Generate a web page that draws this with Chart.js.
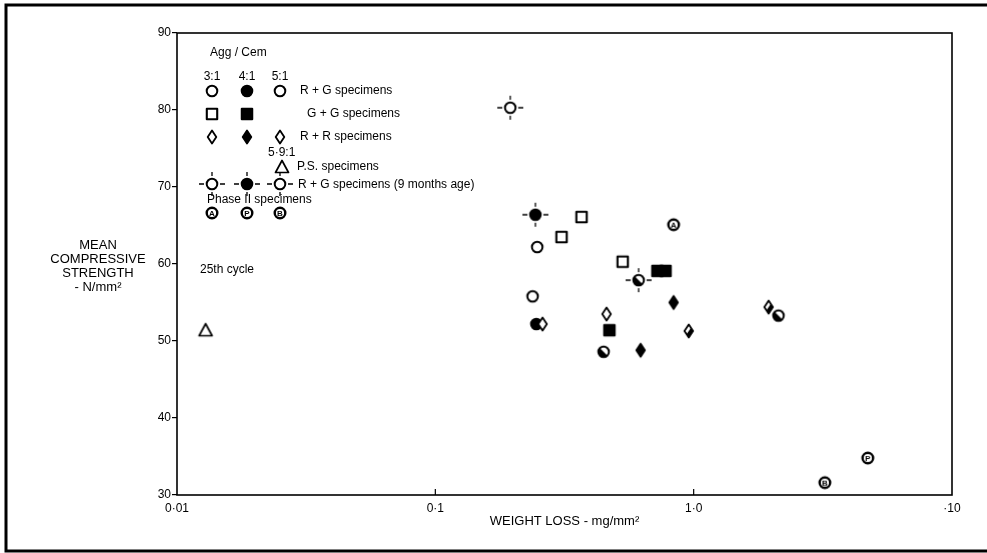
<!DOCTYPE html>
<html>
<head>
<meta charset="utf-8">
<script src="https://cdn.jsdelivr.net/npm/chart.js@4.4.1/dist/chart.umd.min.js"></script>
<style>
  html, body { margin: 0; padding: 0; background: #fff; }
  #wrap { width: 987px; height: 553px; position: relative; }
</style>
</head>
<body>
<div id="wrap"><canvas id="c"></canvas></div>
<script>
// ---- data (weight loss mg/mm^2, mean compressive strength N/mm^2) ----
const rgOpen   = [[0.248, 62.2], [0.238, 55.8]];          // R+G 3:1
const rgFilled = [[0.246, 52.2]];                         // R+G 4:1
const rgHalf   = [[0.448, 48.6], [2.13, 53.3]];           // R+G 5:1
const ggOpen   = [[0.368, 66.1], [0.308, 63.5], [0.531, 60.3]]; // G+G 3:1
const ggFilled = [[0.472, 51.4], [0.724, 59.1], [0.778, 59.1]]; // G+G 4:1
const rrOpen   = [[0.26, 52.2], [0.46, 53.5]];            // R+R 3:1
const rrFilled = [[0.623, 48.8], [0.836, 55.0]];          // R+R 4:1
const rrHalf   = [[0.957, 51.3], [1.95, 54.4]];           // R+R 5:1
const psData   = [[0.0129, 51.4]];                        // P.S. 5.9:1
const nmOpen   = [[0.195, 80.3]];                         // R+G 9 months 3:1
const nmFilled = [[0.244, 66.4]];                         // R+G 9 months 4:1
const nmHalf   = [[0.612, 57.9]];                         // R+G 9 months 5:1
const ph2A     = [[0.836, 65.1]];                         // Phase II 3:1
const ph2B     = [[4.72, 34.8]];                          // Phase II 4:1
const ph2C     = [[3.22, 31.6]];                          // Phase II 5:1

const xTicks = [0.01, 0.1, 1, 10];
const xTickLabels = ['0·01', '0·1', '1·0', '·10'];
const yTicks = [30, 40, 50, 60, 70, 80, 90];

// ---- marker images ----
function mk(draw) {
  const s = 34;
  const c = document.createElement('canvas');
  c.width = s; c.height = s;
  const g = c.getContext('2d');
  g.translate(s / 2, s / 2);
  g.strokeStyle = '#000'; g.fillStyle = '#000'; g.lineWidth = 2;
  draw(g);
  return c;
}
function circ(g, mode) {
  const r = 5.3;
  g.beginPath(); g.arc(0, 0, r, 0, Math.PI * 2);
  g.fillStyle = mode === 'filled' ? '#000' : '#fff'; g.fill();
  if (mode === 'half') {
    g.beginPath(); g.moveTo(0, 0); g.arc(0, 0, r, Math.PI / 4, Math.PI * 5 / 4); g.closePath();
    g.fillStyle = '#000'; g.fill();
  }
  g.lineWidth = 2;
  g.beginPath(); g.arc(0, 0, r, 0, Math.PI * 2); g.stroke();
}
function cross(g) {
  g.lineWidth = 1.3;
  g.beginPath();
  g.moveTo(-13, 0); g.lineTo(-8, 0); g.moveTo(8, 0); g.lineTo(13, 0);
  g.moveTo(0, -12); g.lineTo(0, -8); g.moveTo(0, 8); g.lineTo(0, 12);
  g.stroke();
}
function diam(g, mode) {
  const p = () => { g.beginPath(); g.moveTo(0, -6.5); g.lineTo(4.3, 0); g.lineTo(0, 6.5); g.lineTo(-4.3, 0); g.closePath(); };
  p(); g.fillStyle = mode === 'filled' ? '#000' : '#fff'; g.fill();
  if (mode === 'half') {
    g.beginPath(); g.moveTo(4.3, 0); g.lineTo(0, 6.5); g.lineTo(-2, 3); g.lineTo(2, -3); g.closePath();
    g.fillStyle = '#000'; g.fill();
  }
  p(); g.lineWidth = 1.8; g.lineJoin = 'round'; g.stroke();
}
function sq(g, mode) {
  g.beginPath(); g.rect(-5.2, -5.2, 10.4, 10.4);
  g.fillStyle = mode === 'filled' ? '#000' : '#fff'; g.fill();
  g.lineWidth = 2.1; g.lineJoin = 'round'; g.stroke();
}
function ph(g, letter) {
  g.beginPath(); g.arc(0, 0, 5.3, 0, Math.PI * 2);
  g.fillStyle = '#fff'; g.fill();
  g.lineWidth = 2.4; g.stroke();
  g.fillStyle = '#000';
  g.font = 'bold 8px "Liberation Sans", Arial, sans-serif';
  g.textAlign = 'center'; g.textBaseline = 'middle';
  g.fillText(letter, 0, 0.5);
}
const M = {
  cOpen:   mk(g => circ(g, 'open')),
  cFilled: mk(g => circ(g, 'filled')),
  cHalf:   mk(g => circ(g, 'half')),
  sOpen:   mk(g => sq(g, 'open')),
  sFilled: mk(g => sq(g, 'filled')),
  dOpen:   mk(g => diam(g, 'open')),
  dFilled: mk(g => diam(g, 'filled')),
  dHalf:   mk(g => diam(g, 'half')),
  tri:     mk(g => { g.beginPath(); g.moveTo(0, -6.5); g.lineTo(6.5, 5.5); g.lineTo(-6.5, 5.5); g.closePath(); g.fillStyle = '#fff'; g.fill(); g.lineWidth = 1.7; g.lineJoin = 'round'; g.stroke(); }),
  xOpen:   mk(g => { cross(g); circ(g, 'open'); }),
  xFilled: mk(g => { cross(g); circ(g, 'filled'); }),
  xHalf:   mk(g => { cross(g); circ(g, 'half'); }),
  pA:      mk(g => ph(g, 'A')),
  pB:      mk(g => ph(g, 'P')),
  pC:      mk(g => ph(g, 'B'))
};

const toPts = arr => arr.map(([x, y]) => ({ x, y }));
function ds(label, data, img, order) {
  return { label, data: toPts(data), pointStyle: img, pointRadius: 6, order, showLine: false };
}

const FONT = '"Liberation Sans", Arial, Helvetica, sans-serif';

const decor = {
  id: 'decor',
  afterDraw(chart) {
    const ctx = chart.ctx;
    const a = chart.chartArea;
    const xs = chart.scales.x;
    ctx.save();
    // outer figure frame
    ctx.strokeStyle = '#000';
    ctx.lineWidth = 3;
    ctx.strokeRect(6, 5, 1000, 546);
    // plot frame
    ctx.lineWidth = 1.6;
    ctx.strokeRect(a.left, a.top, a.right - a.left, a.bottom - a.top);
    // inner x ticks
    ctx.lineWidth = 1.2;
    [0.1, 1].forEach(v => {
      const px = xs.getPixelForValue(v);
      ctx.beginPath(); ctx.moveTo(px, a.bottom); ctx.lineTo(px, a.bottom - 6); ctx.stroke();
    });
    // axis titles
    ctx.fillStyle = '#000';
    ctx.textAlign = 'center'; ctx.textBaseline = 'middle';
    ctx.font = '13px ' + FONT;
    ['MEAN', 'COMPRESSIVE', 'STRENGTH', '- N/mm²'].forEach((t, i) => ctx.fillText(t, 98, 245 + i * 14));
    ctx.fillText('WEIGHT LOSS - mg/mm²', (a.left + a.right) / 2, 521);

    // legend (positions relative to plot area)
    const L = a.left, T = a.top;
    const cols = [L + 35, L + 70, L + 103];
    const draw = (img, x, y) => ctx.drawImage(img, x - img.width / 2, y - img.height / 2);
    ctx.font = '12px ' + FONT;
    ctx.textAlign = 'left';
    ctx.fillText('Agg / Cem', L + 33, T + 20);
    ctx.textAlign = 'center';
    ['3:1', '4:1', '5:1'].forEach((t, i) => ctx.fillText(t, cols[i], T + 44));
    const r1 = T + 58, r2 = T + 81, r3 = T + 104, r4 = T + 134, r5 = T + 151, r6 = T + 180;
    draw(M.cOpen, cols[0], r1); draw(M.cFilled, cols[1], r1); draw(M.cOpen, cols[2], r1);
    draw(M.sOpen, cols[0], r2); draw(M.sFilled, cols[1], r2);
    draw(M.dOpen, cols[0], r3); draw(M.dFilled, cols[1], r3); draw(M.dOpen, cols[2], r3);
    draw(M.tri, cols[2] + 2, r4);
    draw(M.xOpen, cols[0], r5); draw(M.xFilled, cols[1], r5); draw(M.xOpen, cols[2], r5);
    draw(M.pA, cols[0], r6); draw(M.pB, cols[1], r6); draw(M.pC, cols[2], r6);
    ctx.textAlign = 'left';
    ctx.fillText('R + G specimens', L + 123, r1);
    ctx.fillText('G + G specimens', L + 130, r2);
    ctx.fillText('R + R specimens', L + 123, r3);
    ctx.fillText('5·9:1', L + 91, T + 120);
    ctx.fillText('P.S. specimens', L + 120, r4);
    ctx.fillText('R + G specimens (9 months age)', L + 121, r5 + 1);
    ctx.fillText('Phase II specimens', L + 30, T + 167);
    ctx.fillText('25th cycle', L + 23, T + 237);
    ctx.restore();
  }
};

new Chart(document.getElementById('c'), {
  type: 'scatter',
  data: {
    datasets: [
      ds('R+G 3:1', rgOpen, M.cOpen, 5),
      ds('R+G 4:1', rgFilled, M.cFilled, 6),
      ds('R+G 5:1', rgHalf, M.cHalf, 5),
      ds('G+G 3:1', ggOpen, M.sOpen, 5),
      ds('G+G 4:1', ggFilled, M.sFilled, 5),
      ds('R+R 3:1', rrOpen, M.dOpen, 2),
      ds('R+R 4:1', rrFilled, M.dFilled, 5),
      ds('R+R 5:1', rrHalf, M.dHalf, 5),
      ds('P.S. 5.9:1', psData, M.tri, 5),
      ds('R+G 9m 3:1', nmOpen, M.xOpen, 5),
      ds('R+G 9m 4:1', nmFilled, M.xFilled, 5),
      ds('R+G 9m 5:1', nmHalf, M.xHalf, 5),
      ds('Phase II 3:1', ph2A, M.pA, 5),
      ds('Phase II 4:1', ph2B, M.pB, 5),
      ds('Phase II 5:1', ph2C, M.pC, 5)
    ]
  },
  options: {
    responsive: true,
    maintainAspectRatio: false,
    animation: false,
    layout: { padding: { top: 33, right: 35, left: 0, bottom: 0 } },
    plugins: { legend: { display: false }, tooltip: { enabled: false } },
    scales: {
      x: {
        type: 'logarithmic',
        min: 0.01, max: 10,
        afterFit: s => { s.height = 58; },
        afterBuildTicks: s => { s.ticks = xTicks.map(v => ({ value: v })); },
        grid: { display: false, drawTicks: false },
        border: { display: false },
        ticks: {
          autoSkip: false, maxRotation: 0, padding: 6, color: '#000',
          font: { family: FONT, size: 12 },
          callback: (v, i) => xTickLabels[i]
        }
      },
      y: {
        min: 30, max: 90,
        afterFit: s => { s.width = 177; },
        afterBuildTicks: s => { s.ticks = yTicks.map(v => ({ value: v })); },
        grid: { display: true, drawOnChartArea: false, drawTicks: true, tickLength: 5, color: '#000', lineWidth: 1.2 },
        border: { display: false },
        ticks: { padding: 1, color: '#000', font: { family: FONT, size: 12 } }
      }
    }
  },
  plugins: [decor]
});
</script>
</body>
</html>
